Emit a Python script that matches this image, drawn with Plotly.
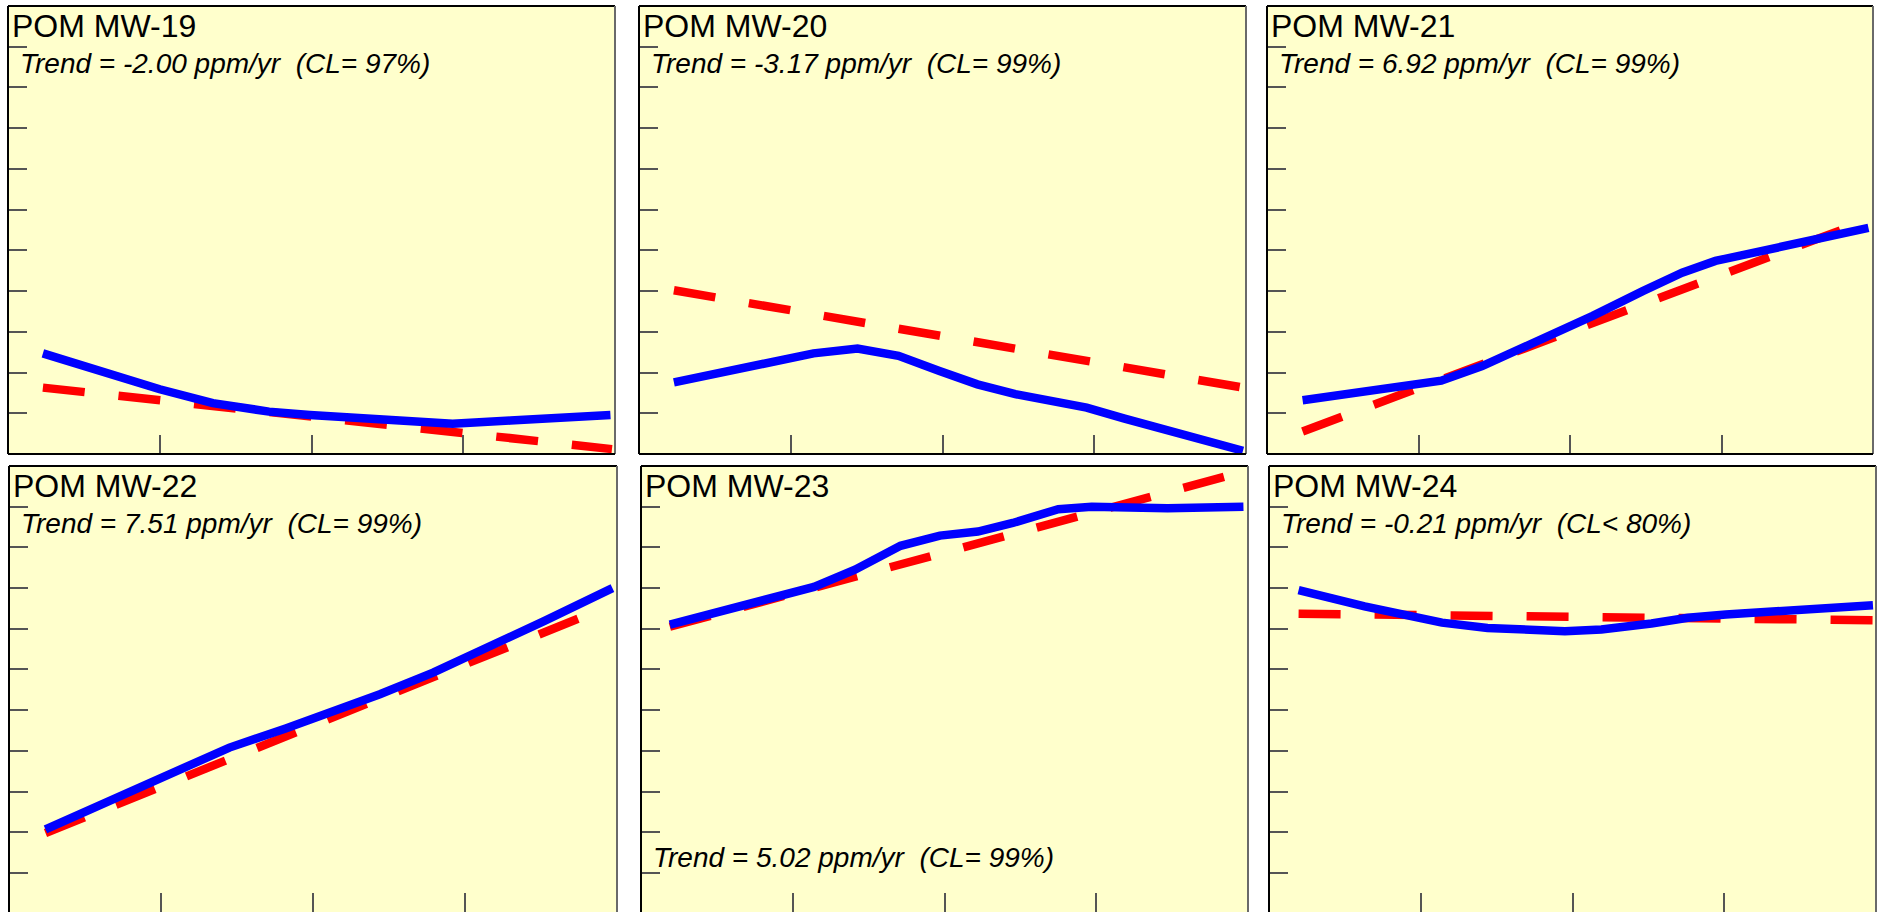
import plotly.graph_objects as go

# ---------------- data ----------------
wells = ["POM MW-19", "POM MW-20", "POM MW-21", "POM MW-22", "POM MW-23", "POM MW-24"]
trend_labels = [
    "Trend = -2.00 ppm/yr\u00a0\u00a0(CL= 97%)",
    "Trend = -3.17 ppm/yr\u00a0\u00a0(CL= 99%)",
    "Trend = 6.92 ppm/yr\u00a0\u00a0(CL= 99%)",
    "Trend = 7.51 ppm/yr\u00a0\u00a0(CL= 99%)",
    "Trend = 5.02 ppm/yr\u00a0\u00a0(CL= 99%)",
    "Trend = -0.21 ppm/yr\u00a0\u00a0(CL< 80%)",
]

mw19_t = [0.23, 0.57, 1.00, 1.35, 1.72, 1.99, 2.32, 2.64, 2.93, 3.31, 3.97]
mw19_c = [2.47, 2.08, 1.59, 1.25, 1.04, 0.96, 0.89, 0.79, 0.74, 0.82, 0.96]
mw20_t = [0.23, 0.71, 1.15, 1.44, 1.71, 1.98, 2.23, 2.48, 2.95, 3.20, 3.48, 3.98]
mw20_c = [1.76, 2.15, 2.47, 2.59, 2.41, 2.04, 1.71, 1.47, 1.14, 0.87, 0.57, 0.08]
mw21_t = [0.235, 0.64, 1.15, 1.42, 1.72, 2.15, 2.48, 2.74, 2.96, 3.34, 3.61, 3.97]
mw21_c = [1.32, 1.51, 1.80, 2.16, 2.65, 3.39, 4.00, 4.45, 4.74, 5.06, 5.28, 5.55]
mw22_t = [0.24, 0.69, 1.02, 1.45, 1.82, 2.09, 2.44, 2.79, 3.17, 3.52, 3.97]
mw22_c = [2.07, 2.82, 3.39, 4.08, 4.55, 4.90, 5.39, 5.92, 6.57, 7.19, 8.00]
mw23_t = [0.19, 0.55, 1.14, 1.41, 1.71, 1.97, 2.22, 2.45, 2.75, 2.97, 3.19, 3.47, 3.97]
mw23_c = [7.10, 7.46, 8.03, 8.45, 9.04, 9.29, 9.39, 9.60, 9.94, 10.00, 9.98, 9.96, 10.00]
mw24_t = [0.195, 0.63, 1.14, 1.44, 1.95, 2.19, 2.52, 2.76, 3.01, 3.33, 3.74, 3.98]
mw24_c = [7.95, 7.55, 7.15, 7.02, 6.94, 6.98, 7.13, 7.27, 7.35, 7.41, 7.51, 7.58]

# linear trend lines: start / end time and value
trend_t0 = [0.23, 0.23, 0.235, 0.24, 0.19, 0.195]
trend_t1 = [3.98, 3.98, 3.97, 3.92, 3.97, 3.98]
trend_c0 = [1.63, 4.02, 0.555, 1.98, 7.05, 7.37]
trend_c1 = [0.12, 1.63, 5.75, 7.51, 10.86, 7.21]

series_t = [mw19_t, mw20_t, mw21_t, mw22_t, mw23_t, mw24_t]
series_c = [mw19_c, mw20_c, mw21_c, mw22_c, mw23_c, mw24_c]

x_ticks = [1, 2, 3]
y_ticks = [1, 2, 3, 4, 5, 6, 7, 8, 9, 10]

# ---------------- layout geometry (pixels) ----------------
W, H = 1883, 912
col_px = [[(8, 615), (639, 1246), (1267, 1873)],
          [(9, 617), (641, 1248), (1269, 1876)]]
row_px = [(6, 454), (466, 912)]
row_yrange = [[0, 11], [0.04, 11]]
trend_text_off = [67, 67, 67, 67, 401, 67]
TITLE_FS, TREND_FS = 32, 28

fig = go.Figure()
layout = dict(
    width=W, height=H, margin=dict(l=0, r=0, t=0, b=0),
    paper_bgcolor="white", plot_bgcolor="#FFFFCC", showlegend=False,
    font=dict(family="Liberation Sans, Arial, sans-serif", color="black"),
)
annotations = []
shapes = []

for i in range(6):
    r, c = divmod(i, 3)
    ax = "" if i == 0 else str(i + 1)
    xl, xr = col_px[r][c]
    yt, yb = row_px[r]
    layout["xaxis" + ax] = dict(
        domain=[xl / W, xr / W], range=[0, 4], anchor="y" + ax,
        tickvals=x_ticks, showticklabels=False, ticks="inside", ticklen=19,
        tickwidth=1.5, tickcolor="#555555", showgrid=False, zeroline=False,
        showline=False, fixedrange=True,
    )
    layout["yaxis" + ax] = dict(
        domain=[1 - yb / H, 1 - yt / H], range=row_yrange[r], anchor="x" + ax,
        tickvals=y_ticks, showticklabels=False, ticks="inside", ticklen=19,
        tickwidth=1.5, tickcolor="#555555", showgrid=False, zeroline=False,
        showline=False, fixedrange=True,
    )
    xs, ys = "x" + ax, "y" + ax
    fig.add_trace(go.Scatter(
        x=[trend_t0[i], trend_t1[i]], y=[trend_c0[i], trend_c1[i]],
        xaxis=xs, yaxis=ys, mode="lines",
        line=dict(color="#FF0000", width=8.5, dash="42px,34px"),
        hoverinfo="skip"))
    fig.add_trace(go.Scatter(
        x=series_t[i], y=series_c[i], xaxis=xs, yaxis=ys, mode="lines",
        line=dict(color="#0000FF", width=8.5), hoverinfo="skip"))

    # border lines
    xd, yd = xs + " domain", ys + " domain"
    shapes.append(dict(type="line", xref=xd, yref=yd, x0=0, x1=1, y0=1, y1=1,
                       line=dict(color="black", width=2)))
    shapes.append(dict(type="line", xref=xd, yref=yd, x0=0, x1=0, y0=0, y1=1,
                       line=dict(color="black", width=2)))
    shapes.append(dict(type="line", xref=xd, yref=yd, x0=1, x1=1, y0=0, y1=1,
                       line=dict(color="#6a6a6a", width=2)))
    if r == 0:
        shapes.append(dict(type="line", xref=xd, yref=yd, x0=0, x1=1, y0=0, y1=0,
                           line=dict(color="black", width=2)))

    # title
    annotations.append(dict(
        text=wells[i], xref="paper", yref="paper", x=(xl + 2) / W,
        y=1 - (yt + 31 + 0.212 * TITLE_FS + 2) / H, xanchor="left", yanchor="bottom",
        showarrow=False, font=dict(size=TITLE_FS, color="black")))
    annotations.append(dict(
        text="<i>" + trend_labels[i] + "</i>", xref="paper", yref="paper",
        x=(xl + 10) / W, y=1 - (yt + trend_text_off[i] + 0.212 * TREND_FS + 2) / H,
        xanchor="left", yanchor="bottom", showarrow=False,
        font=dict(size=TREND_FS, color="black")))

layout["annotations"] = annotations
layout["shapes"] = shapes
fig.update_layout(**layout)
fig.write_html("out.html")
